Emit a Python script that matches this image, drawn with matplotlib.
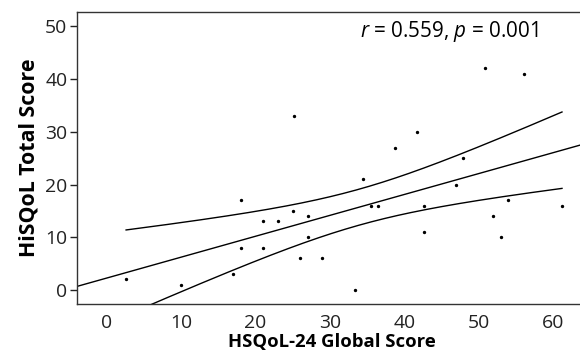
import numpy as np
import matplotlib
matplotlib.use("Agg")
import matplotlib.pyplot as plt

plt.rcParams['font.family'] = ['Open Sans', 'DejaVu Sans']
plt.rcParams['font.stretch'] = 'normal'
plt.rcParams['mathtext.fontset'] = 'custom'
plt.rcParams['mathtext.rm'] = 'Open Sans'
plt.rcParams['mathtext.it'] = 'Open Sans:italic'

global_score = [2.6, 10, 17, 18, 18, 21, 21, 23, 25, 25.2, 26, 27, 27, 29, 33.4,
                34.5, 35.5, 36.5, 38.7, 41.7, 42.7, 42.7, 46.9, 47.9, 50.9, 51.9,
                53, 54, 56.1, 61.2]
total_score = [2, 1, 3, 8, 17, 13, 8, 13, 15, 33, 6, 14, 10, 6, 0,
               21, 16, 16, 27, 30, 16, 11, 20, 25, 42, 14,
               10, 17, 41, 16]
x_ticks = [0, 10, 20, 30, 40, 50, 60]
y_ticks = [0, 10, 20, 30, 40, 50]
annotation = "$r$ = 0.559, $p$ = 0.001"

x = np.array(global_score, float)
y = np.array(total_score, float)
n = len(x)
b1, b0 = np.polyfit(x, y, 1)
resid = y - (b0 + b1 * x)
s = np.sqrt(np.sum(resid ** 2) / (n - 2))
sxx = np.sum((x - x.mean()) ** 2)
tval = 2.048

fig = plt.figure(figsize=(5.8, 3.54), dpi=100)
ax = fig.add_axes([77 / 580, 50 / 354, 1 - 77 / 580 + 0.01, 292 / 354])
xlo, xhi = -4.0, 64.4
ax.set_xlim(xlo, xhi)
ax.set_ylim(-2.65, 52.7)

ax.scatter(x, y, s=2, color='black', zorder=3)
xl = np.linspace(xlo, xhi, 200)
ax.plot(xl, b0 + b1 * xl, color='black', lw=1)
xc = np.linspace(x.min(), x.max(), 200)
se = s * np.sqrt(1 / n + (xc - x.mean()) ** 2 / sxx)
ax.plot(xc, b0 + b1 * xc + tval * se, color='black', lw=1)
ax.plot(xc, b0 + b1 * xc - tval * se, color='black', lw=1)

ann = ax.text(46.0, 49.0, annotation, ha='center', va='center', fontsize=12)

ax.set_xticks(x_ticks)
ax.set_yticks(y_ticks)
ax.tick_params(axis='x', length=0, labelsize=13, pad=7, colors='#222222')
ax.tick_params(axis='y', length=5, labelsize=13, width=1, pad=2, colors='#222222')
ax.spines['right'].set_visible(False)
for sp in ['left', 'top', 'bottom']:
    ax.spines[sp].set_linewidth(1)
    ax.spines[sp].set_color('#333333')
xlab = ax.set_xlabel('HSQoL-24 Global Score', fontsize=13, fontweight='bold',
                     fontstretch='normal', labelpad=1)
ylab = ax.set_ylabel('HiSQoL Total Score', fontsize=13, fontweight='bold',
                     fontstretch='normal', labelpad=4)

# fit text sizes to the reference widths (pixels)
fig.canvas.draw()
r = fig.canvas.get_renderer()
def fit(t, target, horizontal=True):
    bb = t.get_window_extent(r)
    w = bb.width if horizontal else bb.height
    t.set_fontsize(t.get_fontsize() * target / w)
fit(ann, 178)
fit(xlab, 205)
fit(ylab, 197, horizontal=False)
lab50 = ax.get_yticklabels()[-1]
bb = lab50.get_window_extent(r)
ts = 13 * 22 / bb.width
ax.tick_params(axis='both', labelsize=ts)

fig.savefig('out.png', dpi=100)
